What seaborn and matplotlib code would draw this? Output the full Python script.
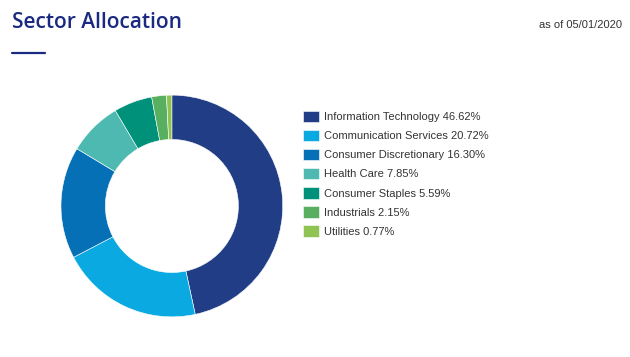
import matplotlib
matplotlib.use("Agg")
import matplotlib.pyplot as plt
import seaborn as sns


sectors = [
    "Information Technology", "Communication Services", "Consumer Discretionary",
    "Health Care", "Consumer Staples", "Industrials", "Utilities"
]
weights = [46.62, 20.72, 16.30, 7.85, 5.59, 2.15, 0.77]
colors = ["#203d86", "#0aa9e1", "#0570b5", "#4db9b0", "#00917b", "#58af5f", "#8fc455"]

sns.set_theme(style="white")
plt.rcParams['font.family'] = ['Liberation Sans', 'DejaVu Sans']

fig = plt.figure(figsize=(6.3, 3.57), dpi=100)
fig.patch.set_facecolor("white")

# donut
ax = fig.add_axes([0.0968, 0.112, 0.352, 0.622])
wedges, _ = ax.pie(weights, colors=sns.color_palette(colors), startangle=90, counterclock=False,
                   radius=1, wedgeprops=dict(width=0.4, edgecolor="white", linewidth=0.4))
ax.set_xlim(-1, 1)
ax.set_ylim(-1, 1)
ax.set_aspect("equal")
ax.axis("off")

labels = [f"{s} {w:.2f}%" for s, w in zip(sectors, weights)]
fig.legend(wedges, labels, loc="upper left", bbox_to_anchor=(0.481, 0.69),
           frameon=False, fontsize=8, labelcolor="#333333",
           handlelength=1.4, handleheight=1.2, handletextpad=0.45,
           labelspacing=0.69, borderaxespad=0, borderpad=0)

# header
fig.text(12 / 630, 1 - 23 / 357, "Sector Allocation", fontsize=15, color="#1a2a80",
         family=["Open Sans", "DejaVu Sans"], weight="semibold", va="center", ha="left")
fig.add_artist(plt.Line2D([12 / 630, 45 / 630], [1 - 53 / 357, 1 - 53 / 357],
                          color="#1a2a80", linewidth=1.6))
fig.text(622 / 630, 1 - 25 / 357, "as of 05/01/2020", fontsize=8, color="#333333",
         va="center", ha="right")

fig.savefig("out.png", dpi=100, facecolor="white")
